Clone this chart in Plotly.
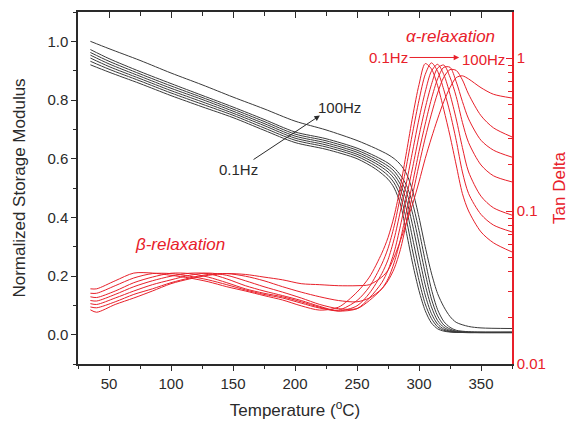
import plotly.graph_objects as go

# Frequencies of the DMA sweep
FREQS = ["0.1Hz", "0.3Hz", "1Hz", "3Hz", "10Hz", "30Hz", "100Hz"]

# Temperature grid (°C) for the storage modulus curves
T_MOD = [35, 50, 75, 100, 125, 150, 175, 200, 225, 250, 265, 275, 280, 285,
         290, 295, 300, 305, 310, 315, 320, 325, 330, 340, 350, 375]

# Normalized storage modulus, one list per frequency (0.1Hz -> 100Hz)
MOD_01 = [0.920, 0.895, 0.856, 0.815, 0.777, 0.740, 0.697, 0.655, 0.632, 0.600, 0.565, 0.530, 0.500,
          0.445, 0.345, 0.240, 0.150, 0.082, 0.040, 0.020, 0.012, 0.009, 0.008, 0.007, 0.007, 0.007]
MOD_03 = [0.932, 0.905, 0.865, 0.824, 0.786, 0.748, 0.705, 0.663, 0.640, 0.608, 0.575, 0.543, 0.517,
          0.472, 0.388, 0.282, 0.185, 0.105, 0.055, 0.027, 0.015, 0.010, 0.008, 0.007, 0.007, 0.007]
MOD_1 = [0.943, 0.914, 0.873, 0.832, 0.794, 0.755, 0.713, 0.670, 0.647, 0.615, 0.584, 0.555, 0.532,
         0.494, 0.425, 0.325, 0.225, 0.135, 0.072, 0.036, 0.019, 0.012, 0.009, 0.008, 0.007, 0.007]
MOD_3 = [0.953, 0.923, 0.881, 0.840, 0.802, 0.762, 0.720, 0.677, 0.654, 0.622, 0.592, 0.565, 0.545,
         0.512, 0.457, 0.370, 0.268, 0.170, 0.095, 0.048, 0.025, 0.015, 0.010, 0.008, 0.008, 0.008]
MOD_10 = [0.962, 0.932, 0.889, 0.848, 0.809, 0.769, 0.727, 0.684, 0.661, 0.629, 0.600, 0.575, 0.557,
          0.528, 0.484, 0.410, 0.312, 0.210, 0.122, 0.064, 0.033, 0.019, 0.012, 0.009, 0.008, 0.008]
MOD_30 = [0.972, 0.941, 0.897, 0.856, 0.816, 0.776, 0.734, 0.691, 0.668, 0.636, 0.608, 0.585, 0.568,
          0.544, 0.508, 0.445, 0.355, 0.252, 0.155, 0.085, 0.045, 0.025, 0.015, 0.010, 0.009, 0.009]
MOD_100 = [1.000, 0.975, 0.935, 0.892, 0.852, 0.810, 0.770, 0.728, 0.698, 0.662, 0.635, 0.614, 0.600,
           0.580, 0.548, 0.488, 0.400, 0.300, 0.210, 0.140, 0.095, 0.062, 0.042, 0.028, 0.023, 0.021]
MODULUS = [MOD_01, MOD_03, MOD_1, MOD_3, MOD_10, MOD_30, MOD_100]

# Temperature grid (°C) for the loss tangent curves
T_TAN = [35, 40, 55, 70, 85, 100, 115, 130, 145, 160, 175, 190, 205, 220, 235, 250, 260, 270,
         275, 280, 285, 290, 295, 300, 305, 310, 315, 320, 325, 330, 335, 340, 350, 360, 375]

# Tan delta, one list per frequency (0.1Hz -> 100Hz)
TAN_01 = [0.031, 0.031, 0.035, 0.0393, 0.0393, 0.038, 0.0365, 0.0345, 0.032, 0.030,
          0.028, 0.0262, 0.0240, 0.0225, 0.0235, 0.0295, 0.037, 0.053, 0.067, 0.093,
          0.145, 0.245, 0.42, 0.67, 0.92, 0.85, 0.66, 0.46, 0.31, 0.20,
          0.13, 0.10, 0.073, 0.062, 0.054]
TAN_03 = [0.029, 0.029, 0.0325, 0.0365, 0.039, 0.039, 0.0375, 0.0355, 0.033, 0.0305,
          0.0285, 0.027, 0.0250, 0.0232, 0.0225, 0.026, 0.032, 0.045, 0.057, 0.080,
          0.125, 0.20, 0.33, 0.53, 0.78, 0.93, 0.82, 0.62, 0.44, 0.29,
          0.18, 0.13, 0.095, 0.081, 0.073]
TAN_1 = [0.0275, 0.0272, 0.030, 0.034, 0.037, 0.0392, 0.039, 0.037, 0.034, 0.031,
         0.029, 0.0275, 0.0255, 0.0235, 0.0222, 0.024, 0.029, 0.039, 0.048, 0.066,
         0.100, 0.155, 0.25, 0.40, 0.60, 0.82, 0.91, 0.78, 0.58, 0.40,
         0.26, 0.18, 0.125, 0.105, 0.094]
TAN_3 = [0.026, 0.0258, 0.0285, 0.032, 0.035, 0.0375, 0.0392, 0.039, 0.036, 0.0325,
         0.030, 0.028, 0.026, 0.0238, 0.0222, 0.023, 0.027, 0.034, 0.041, 0.054,
         0.080, 0.125, 0.195, 0.31, 0.47, 0.67, 0.86, 0.90, 0.75, 0.56,
         0.38, 0.28, 0.20, 0.17, 0.155]
TAN_10 = [0.0248, 0.0245, 0.027, 0.030, 0.033, 0.0355, 0.038, 0.0393, 0.038, 0.035,
          0.032, 0.0295, 0.027, 0.0245, 0.023, 0.023, 0.026, 0.031, 0.036, 0.046,
          0.065, 0.100, 0.155, 0.245, 0.37, 0.54, 0.73, 0.87, 0.87, 0.70,
          0.52, 0.40, 0.29, 0.25, 0.225]
TAN_30 = [0.0236, 0.0233, 0.0255, 0.0285, 0.031, 0.034, 0.0365, 0.0385, 0.039, 0.0375,
          0.035, 0.032, 0.0295, 0.0275, 0.026, 0.0255, 0.027, 0.031, 0.035, 0.042,
          0.056, 0.085, 0.13, 0.20, 0.30, 0.43, 0.59, 0.75, 0.84, 0.83,
          0.72, 0.58, 0.42, 0.35, 0.305]
TAN_100 = [0.0226, 0.0218, 0.0245, 0.027, 0.030, 0.0335, 0.036, 0.038, 0.039, 0.0385,
           0.037, 0.0355, 0.0335, 0.033, 0.0325, 0.0325, 0.033, 0.037, 0.041, 0.050,
           0.064, 0.085, 0.112, 0.155, 0.22, 0.30, 0.40, 0.52, 0.64, 0.745,
           0.765, 0.73, 0.64, 0.58, 0.548]
TAN_DELTA = [TAN_01, TAN_03, TAN_1, TAN_3, TAN_10, TAN_30, TAN_100]

# Axis ticks
X_TICKS = [50, 100, 150, 200, 250, 300, 350]
Y_TICKS = [0.0, 0.2, 0.4, 0.6, 0.8, 1.0]
TAN_TICKS = [0.01, 0.1, 1]
TAN_TICK_TEXT = ["0.01", "0.1", "1"]
TAN_MINOR = [0.02, 0.03, 0.04, 0.05, 0.06, 0.07, 0.08, 0.09,
             0.2, 0.3, 0.4, 0.5, 0.6, 0.7, 0.8, 0.9, 2]

FONT = "Liberation Sans, Arial, sans-serif"
DARK = "#2a2a2a"
RED = "#e8202a"

fig = go.Figure()

for name, vals in zip(FREQS, MODULUS):
    fig.add_trace(go.Scatter(
        x=T_MOD, y=vals, mode="lines", name="E' " + name,
        line=dict(color="#3a3a3a", width=1, shape="spline", smoothing=0.8),
        xaxis="x", yaxis="y", showlegend=False, hoverinfo="skip"))

for name, vals in zip(FREQS, TAN_DELTA):
    fig.add_trace(go.Scatter(
        x=T_TAN, y=vals, mode="lines", name="tan δ " + name,
        line=dict(color=RED, width=1, shape="spline", smoothing=0.8),
        xaxis="x2", yaxis="y2", showlegend=False, hoverinfo="skip"))

x_common = dict(range=[25, 375], showgrid=False, zeroline=False,
                showline=True, linecolor=DARK, linewidth=1.5)

fig.update_layout(
    width=571, height=424,
    margin=dict(l=78, r=59, t=12, b=60, autoexpand=False),
    paper_bgcolor="white", plot_bgcolor="white",
    font=dict(family=FONT, size=15, color=DARK),
    xaxis=dict(**x_common, tickvals=X_TICKS, ticks="outside", ticklen=5,
               tickwidth=1.2, tickcolor=DARK,
               minor=dict(dtick=25, tick0=0, ticks="outside", ticklen=3,
                          tickwidth=1.2, tickcolor=DARK),
               tickfont=dict(size=15, color=DARK),
               title=dict(text="Temperature (<sup>o</sup>C)", standoff=13,
                          font=dict(size=17, color=DARK)),
               automargin=False),
    xaxis2=dict(**x_common, overlaying="x", side="top", anchor="y",
                tickvals=X_TICKS, ticks="inside", ticklen=6, tickwidth=1.2,
                tickcolor=DARK, showticklabels=False,
                minor=dict(dtick=25, tick0=0, ticks="inside", ticklen=4,
                           tickwidth=1.2, tickcolor=DARK),
                automargin=False),
    yaxis=dict(range=[-0.1, 1.1], showgrid=False, zeroline=False,
               showline=True, linecolor=DARK, linewidth=1.5,
               tickvals=Y_TICKS, tickformat=".1f", ticks="outside", ticklen=5,
               tickwidth=1.2, tickcolor=DARK,
               minor=dict(dtick=0.1, tick0=0, ticks="outside", ticklen=3,
                          tickwidth=1.2, tickcolor=DARK),
               tickfont=dict(size=15, color=DARK),
               title=dict(text="Normalized Storage Modulus", standoff=17,
                          font=dict(size=17, color=DARK)),
               automargin=False),
    yaxis2=dict(type="log", range=[-2, 0.301], overlaying="y", side="right",
                anchor="x", showgrid=False, zeroline=False,
                showline=True, linecolor=RED, linewidth=1.5,
                tickvals=TAN_TICKS, ticktext=TAN_TICK_TEXT,
                ticks="inside", ticklen=6, tickwidth=1.2, tickcolor=RED,
                minor=dict(tickvals=TAN_MINOR, ticks="inside", ticklen=4,
                           tickwidth=1.2, tickcolor=RED),
                tickfont=dict(size=15, color=RED),
                title=dict(text="Tan Delta", standoff=8,
                           font=dict(size=17, color=RED)),
                automargin=False),
)

annotations = [
    # storage modulus: frequency arrow starting from its "0.1Hz" label
    dict(x=220.1, y=0.747, xref="x", yref="y", ax=154.4, ay=0.563,
         axref="x", ayref="y", text="0.1Hz", showarrow=True, arrowhead=2,
         arrowsize=1.1, arrowwidth=1, arrowcolor=DARK,
         xanchor="center", yanchor="middle",
         font=dict(size=15, color=DARK)),
    dict(x=235.5, y=0.775, xref="x", yref="y", text="100Hz", showarrow=False,
         xanchor="center", yanchor="middle", font=dict(size=15, color=DARK)),
    # relaxation labels
    dict(x=107, y=0.307, xref="x", yref="y", text="<i>β-relaxation</i>",
         showarrow=False, xanchor="center", yanchor="middle",
         font=dict(size=17, color=RED)),
    dict(x=325.5, y=0.929, xref="x", yref="paper", text="<i>α-relaxation</i>",
         showarrow=False, xanchor="center", yanchor="middle",
         font=dict(size=17, color=RED)),
    # tan delta: frequency arrow starting from its "0.1Hz" label
    dict(x=332.4, y=0.945, xref="x", yref="y", ax=275.4, ay=0.945,
         axref="x", ayref="y", text="0.1Hz", showarrow=True, arrowhead=2,
         arrowsize=1.1, arrowwidth=1, arrowcolor=RED,
         xanchor="center", yanchor="middle",
         font=dict(size=15, color=RED)),
    dict(x=352.2, y=0.864, xref="x", yref="paper", text="100Hz",
         showarrow=False, xanchor="center", yanchor="middle",
         font=dict(size=15, color=RED)),
]
fig.update_layout(annotations=annotations)

fig.write_html("out.html")
